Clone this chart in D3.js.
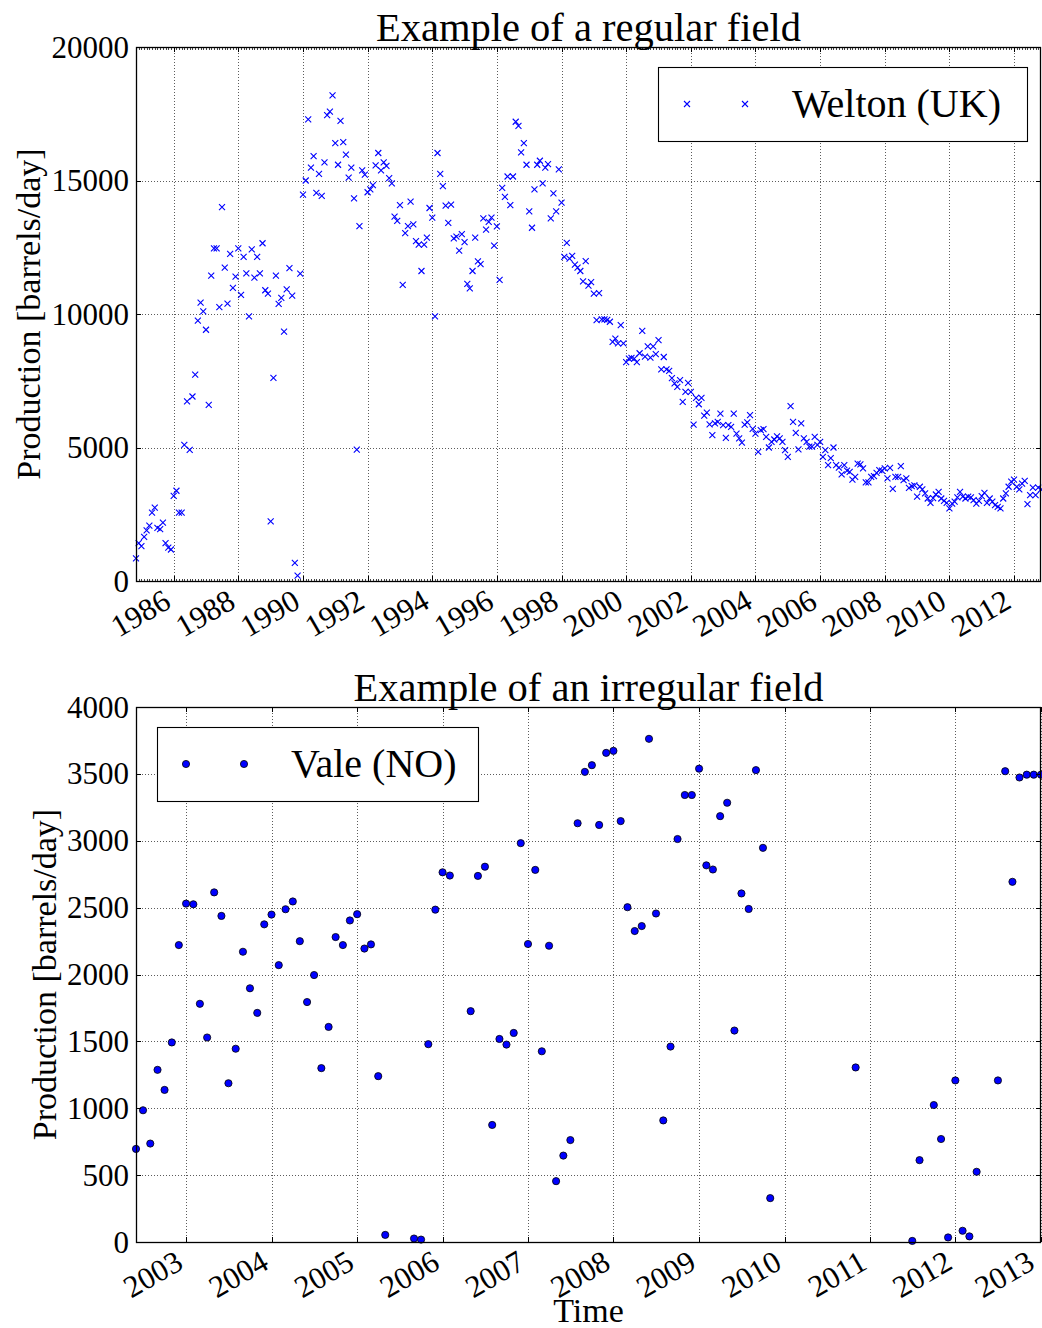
<!DOCTYPE html>
<html><head><meta charset="utf-8">
<script src="https://cdn.jsdelivr.net/npm/d3@7"></script>
<style>
body{margin:0;background:#fff;}
svg{display:block;font-family:"Liberation Serif","Times New Roman",serif;}
</style></head><body>
<svg id="chart" width="1042" height="1328"></svg>
<script>
// ---------------- DATA ----------------
// Welton (UK): monthly production, first value = Nov 1984
const weltonStart = "1984-11-01";
const welton1984 = [850, 1420];
const welton1985 = [1310, 1650, 1900, 2070, 2560, 2750, 1990, 1940, 2190, 1420, 1250, 1180];
const welton1986 = [3190, 3380, 2560, 2560, 5100, 6730, 4910, 6910, 7730, 9750, 10430, 10100];
const welton1987 = [9410, 6600, 11440, 12460, 12460, 10260, 14000, 11740, 10390, 12250, 10980, 11400];
const welton1988 = [12460, 10720, 12140, 11520, 9910, 12420, 11360, 12140, 11520, 12650, 10890, 10760];
const welton1989 = [2230, 7610, 11440, 10380, 10600, 9340, 10920, 11720, 10690, 680, 200, 11510];
const welton1990 = [14470, 15000, 17290, 15480, 15910, 14540, 15250, 14420, 15680, 17450, 17580, 18190];
const welton1991 = [16400, 15590, 17230, 16440, 15970, 15110, 15480, 14330, 4920, 13290, 15380, 15220];
const welton1992 = [14560, 14670, 14830, 15570, 16030, 15380, 15680, 15550, 15090, 14890, 13650, 13490];
const welton1993 = [14080, 11090, 13030, 13290, 14210, 13360, 12730, 12600, 11610, 12600, 12860, 13970];
const welton1994 = [13610, 9910, 16030, 15250, 14790, 14060, 13410, 14100, 12830, 12900, 12370, 12990];
const welton1995 = [12690, 11130, 10960, 11610, 12860, 11970, 11870, 13580, 13160, 13450, 13610, 12560];
const welton1996 = [13280, 11280, 14720, 14390, 15150, 14080, 15150, 17200, 17050, 16050, 16400, 15590];
const welton1997 = [13840, 13230, 14670, 15590, 15740, 14890, 15480, 15610, 13580, 14520, 13840, 15420];
const welton1998 = [14170, 12140, 12660, 12070, 12180, 11850, 11740, 11610, 11220, 11980, 11060, 11190];
const welton1999 = [10760, 9770, 10780, 9800, 9800, 9780, 9710, 8960, 9080, 8900, 9580, 8900];
const welton2000 = [8200, 8330, 8360, 8330, 8200, 8530, 9370, 8400, 8790, 8370, 8790, 8500];
const welton2001 = [9020, 7930, 8390, 7930, 7870, 7600, 7400, 7270, 7520, 6710, 7080, 7420];
const welton2002 = [7080, 5860, 6860, 6620, 6860, 6190, 6310, 5870, 5460, 5900, 5960, 6270];
const welton2003 = [5840, 5360, 5840, 5770, 6270, 5520, 5340, 5180, 5860, 5940, 6210, 5700];
const welton2004 = [5520, 4840, 5650, 5690, 5400, 5000, 5210, 5300, 5420, 5340, 5210, 4900];
const welton2005 = [4650, 6550, 5960, 5550, 4930, 5900, 5340, 5210, 5030, 5030, 5400, 5100];
const welton2006 = [5210, 4650, 4900, 4340, 4600, 5000, 4340, 4250, 3990, 4340, 4130, 4090];
const welton2007 = [3800, 3900, 4400, 4370, 4220, 3690, 3690, 3900, 3930, 4050, 4150, 4130];
const welton2008 = [4220, 3840, 4240, 3450, 3900, 3900, 4300, 3780, 3840, 3490, 3550, 3580];
const welton2009 = [3160, 3530, 3430, 3280, 3090, 2930, 3100, 3240, 3340, 3090, 3000, 2930];
const welton2010 = [2720, 2900, 2970, 3130, 3340, 3160, 3090, 3160, 3130, 3030, 2900, 3000];
const welton2011 = [3180, 3300, 2930, 3090, 2970, 2840, 2780, 2720, 3090, 3280, 3530, 3720];
const welton2012 = [3800, 3530, 3430, 3650, 3750, 2880, 3220, 3500, 3220, 3500, 3430];

// Vale (NO): irregular monthly production (missing months omitted)
const valeDates = [
 "2002-06","2002-07","2002-08","2002-09","2002-10","2002-11","2002-12",
 "2003-01","2003-02","2003-03","2003-04","2003-05","2003-06","2003-07","2003-08","2003-09","2003-10","2003-11","2003-12",
 "2004-01","2004-02","2004-03","2004-04","2004-05","2004-06","2004-07","2004-08","2004-09","2004-10","2004-11","2004-12",
 "2005-01","2005-02","2005-03","2005-04","2005-05","2005-09","2005-10","2005-11","2005-12",
 "2006-01","2006-02","2006-05","2006-06","2006-07","2006-08","2006-09","2006-10","2006-11","2006-12",
 "2007-01","2007-02","2007-03","2007-04","2007-05","2007-06","2007-07","2007-08","2007-09","2007-10","2007-11","2007-12",
 "2008-01","2008-02","2008-03","2008-04","2008-05","2008-06","2008-07","2008-08","2008-09","2008-10","2008-11","2008-12",
 "2009-01","2009-02","2009-03","2009-04","2009-05","2009-06","2009-07","2009-08","2009-09","2009-10","2009-11",
 "2010-11",
 "2011-07","2011-08","2011-10","2011-11","2011-12",
 "2012-01","2012-02","2012-03","2012-04","2012-07","2012-08","2012-09","2012-10","2012-11","2012-12",
 "2013-01"];
const valeValues = [
 696, 985, 736, 1287, 1137, 1492, 2220,
 2530, 2525, 1781, 1529, 2614, 2438, 1187, 1445, 2170, 1897, 1713, 2375,
 2448, 2070, 2488, 2546, 2249, 1794, 1996, 1300, 1608, 2280, 2220, 2404,
 2451, 2194, 2225, 1240, 53, 26, 18, 1479, 2485,
 2764, 2740, 1726, 2737, 2806, 875, 1518, 1476, 1563, 2982,
 2228, 2782, 1426, 2215, 455, 646, 762, 3131, 3515, 3565, 3118, 3657,
 3672, 3147, 2503, 2325, 2362, 3762, 2456, 909, 1461, 3013, 3342, 3342,
 3539, 2816, 2785, 3184, 3284, 1581, 2606, 2490, 3528, 2947, 328,
 1305,
 8, 612, 1024, 770, 34,
 1208, 84, 42, 525, 1208, 3520, 2693, 3473, 3494, 3494,
 3494];

// Axis ticks / labels
const weltonYearTicks = [1986,1988,1990,1992,1994,1996,1998,2000,2002,2004,2006,2008,2010,2012];
const weltonYTicks = [0, 5000, 10000, 15000, 20000];
const valeYearTicks = [2003,2004,2005,2006,2007,2008,2009,2010,2011,2012,2013];
const valeYTicks = [0, 500, 1000, 1500, 2000, 2500, 3000, 3500, 4000];

const titles = ["Example of a regular field", "Example of an irregular field"];
const yLabel = "Production [barrels/day]";
const xLabel = "Time";
const legendWelton = "Welton (UK)";
const legendVale = "Vale (NO)";

// ---------------- BUILD ----------------
const weltonValues = [].concat(welton1984, welton1985, welton1986, welton1987, welton1988,
  welton1989, welton1990, welton1991, welton1992, welton1993, welton1994, welton1995,
  welton1996, welton1997, welton1998, welton1999, welton2000, welton2001, welton2002,
  welton2003, welton2004, welton2005, welton2006, welton2007, welton2008, welton2009,
  welton2010, welton2011, welton2012);
const wStart = new Date(weltonStart + "T00:00:00Z");
const weltonData = weltonValues.map((v, i) => ({date: d3.utcMonth.offset(wStart, i), value: v}));
const valeData = valeDates.map((d, i) => ({date: new Date(d + "-01T00:00:00Z"), value: valeValues[i]}));

const svg = d3.select("#chart");
svg.append("rect").attr("width", 1042).attr("height", 1328).attr("fill", "#fff");

const L = 136, R = 1041;
const FT_TICK = 31, FT_LABEL = 34, FT_TITLE = 40.5, FT_LEG = 40;
const BLUE = "#0000ff";
const xMarker = "M-3,-3L3,3M-3,3L3,-3";

function panel(o) {
  const g = svg.append("g");
  const x = d3.scaleUtc().domain(o.xDomain).range([L, R]);
  const y = d3.scaleLinear().domain(o.yDomain).range([o.bottom, o.top]);
  const px = v => Math.round(v) + 0.5;

  // grid
  const grid = g.append("g").attr("stroke", "#000").attr("stroke-width", 0.8)
    .attr("stroke-dasharray", "1,2").attr("opacity", 0.8);
  o.xMajor.forEach(d => {
    const xx = px(x(d));
    grid.append("line").attr("x1", xx).attr("x2", xx).attr("y1", o.top).attr("y2", o.bottom);
  });
  o.yTicks.forEach(v => {
    const yy = px(y(v));
    grid.append("line").attr("x1", L).attr("x2", R).attr("y1", yy).attr("y2", yy);
  });

  // points
  const pts = g.append("g");
  if (o.marker === "x") {
    pts.selectAll("path").data(o.data).join("path")
      .attr("d", xMarker)
      .attr("transform", d => `translate(${x(d.date)},${y(d.value)})`)
      .attr("stroke", BLUE).attr("stroke-width", 1.1).attr("fill", "none");
  } else {
    pts.selectAll("circle").data(o.data).join("circle")
      .attr("cx", d => x(d.date)).attr("cy", d => y(d.value)).attr("r", 3.6)
      .attr("fill", BLUE).attr("stroke", "#000").attr("stroke-width", 0.8);
  }

  // ticks
  const tk = g.append("g").attr("stroke", "#000").attr("stroke-width", 1).attr("shape-rendering", "crispEdges");
  if (o.xMinor) {
    o.xMinor.forEach(d => {
      const xx = Math.round(x(d)) + 0.5;
      tk.append("line").attr("x1", xx).attr("x2", xx).attr("y1", o.bottom).attr("y2", o.bottom - 2.5).attr("stroke", "#444");
      tk.append("line").attr("x1", xx).attr("x2", xx).attr("y1", o.top).attr("y2", o.top + 2.5).attr("stroke", "#444");
    });
  }
  o.xMajor.forEach(d => {
    const xx = px(x(d));
    tk.append("line").attr("x1", xx).attr("x2", xx).attr("y1", o.bottom).attr("y2", o.bottom - 5);
    tk.append("line").attr("x1", xx).attr("x2", xx).attr("y1", o.top).attr("y2", o.top + 5);
  });
  o.yTicks.forEach(v => {
    const yy = px(y(v));
    tk.append("line").attr("x1", L).attr("x2", L + 5).attr("y1", yy).attr("y2", yy);
    tk.append("line").attr("x1", R).attr("x2", R - 5).attr("y1", yy).attr("y2", yy);
  });

  // spines
  g.append("rect").attr("x", L + 0.5).attr("y", o.top + 0.5).attr("width", R - L - 1).attr("height", o.bottom - o.top)
    .attr("fill", "none").attr("stroke", "#000").attr("stroke-width", 1.3);

  // tick labels
  g.append("g").selectAll("text").data(o.yTicks).join("text")
    .attr("x", 129).attr("y", v => y(v)).attr("dy", "0.34em")
    .attr("text-anchor", "end").attr("font-size", FT_TICK).text(v => v);
  const xl = g.append("g").selectAll("text").data(o.xMajor).join("text")
    .attr("transform", d => `translate(${x(d) - 12},${o.bottom + 7}) rotate(-30)`)
    .attr("dy", "0.7em").attr("text-anchor", "end").attr("font-size", FT_TICK)
    .text(d => d.getUTCFullYear());
  // keep labels inside the picture
  xl.each(function(d) {
    const r = this.getBoundingClientRect();
    if (r.right > 1040) {
      const shift = r.right - 1040;
      d3.select(this).attr("transform", `translate(${x(d) - 12 - shift},${o.bottom + 7}) rotate(-30)`);
    }
  });

  // title
  g.append("text").attr("x", (L + R) / 2).attr("y", o.top - 6).attr("text-anchor", "middle")
    .attr("font-size", FT_TITLE).text(o.title);
  // y label
  g.append("text").attr("transform", `translate(${o.ylabX},${(o.top + o.bottom) / 2}) rotate(-90)`)
    .attr("text-anchor", "middle").attr("font-size", FT_LABEL).text(yLabel);

  // legend
  const lg = g.append("g");
  lg.append("rect").attr("x", o.leg.x + 0.5).attr("y", o.leg.y + 0.5).attr("width", o.leg.w).attr("height", o.leg.h)
    .attr("fill", "#fff").attr("stroke", "#000").attr("stroke-width", 1.1);
  const cy = o.leg.y + o.leg.h / 2;
  [o.leg.x + 29, o.leg.x + 87].forEach(mx => {
    if (o.marker === "x") {
      lg.append("path").attr("d", xMarker).attr("transform", `translate(${mx},${cy})`)
        .attr("stroke", BLUE).attr("stroke-width", 1.1).attr("fill", "none");
    } else {
      lg.append("circle").attr("cx", mx).attr("cy", cy).attr("r", 3.6)
        .attr("fill", BLUE).attr("stroke", "#000").attr("stroke-width", 0.8);
    }
  });
  lg.append("text").attr("x", o.leg.x + 134).attr("y", cy + 13).attr("font-size", FT_LEG).text(o.legText);
  return {x, y};
}

panel({
  data: weltonData, marker: "x", title: titles[0], legText: legendWelton,
  xDomain: [wStart, weltonData[weltonData.length - 1].date],
  yDomain: [0, 20000], top: 47, bottom: 581,
  xMajor: weltonYearTicks.map(yr => new Date(Date.UTC(yr, 0, 1))),
  xMinor: d3.utcMonth.range(wStart, weltonData[weltonData.length - 1].date),
  yTicks: weltonYTicks, ylabX: 40,
  leg: {x: 658, y: 67, w: 369, h: 74}
});

panel({
  data: valeData, marker: "o", title: titles[1], legText: legendVale,
  xDomain: [valeData[0].date, valeData[valeData.length - 1].date],
  yDomain: [0, 4000], top: 707, bottom: 1242,
  xMajor: valeYearTicks.map(yr => new Date(Date.UTC(yr, 0, 1))),
  xMinor: null,
  yTicks: valeYTicks, ylabX: 56,
  leg: {x: 157, y: 727, w: 321, h: 74}
});

svg.append("text").attr("x", (L + R) / 2).attr("y", 1322).attr("text-anchor", "middle")
  .attr("font-size", FT_LABEL).text(xLabel);
</script>
</body></html>
